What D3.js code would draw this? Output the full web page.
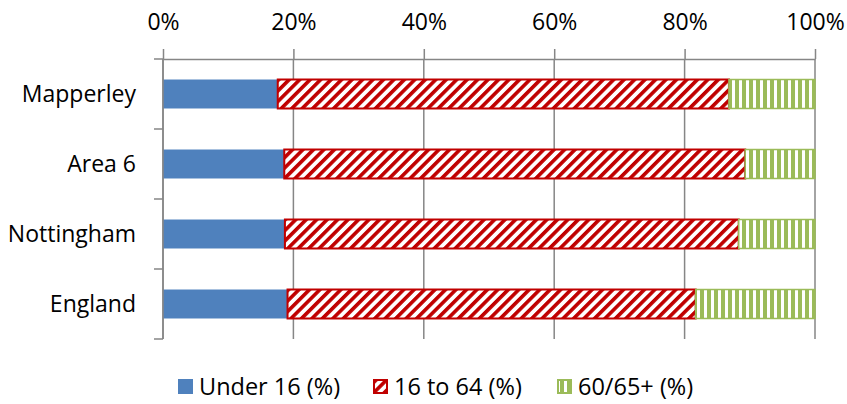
<!DOCTYPE html>
<html>
<head>
<meta charset="utf-8">
<script src="https://cdn.jsdelivr.net/npm/d3@7"></script>
<style>
  html, body { margin: 0; padding: 0; background: #fff; }
  svg { display: block; font-family: "Open Sans", sans-serif; }
</style>
</head>
<body>
<svg id="chart" width="847" height="404"></svg>
<script>
const categories = ["Mapperley", "Area 6", "Nottingham", "England"];
const under16 = [17.6, 18.6, 18.7, 19.1];
const age16to64 = [69.2, 70.7, 69.6, 62.6];
const age60plus = [13.2, 10.7, 11.7, 18.3];
const seriesNames = ["Under 16 (%)", "16 to 64 (%)", "60/65+ (%)"];
const tickValues = [0, 20, 40, 60, 80, 100];

(function () {
const rows = categories.map((c, i) => ({
  cat: c, s0: under16[i], s1: age16to64[i], s2: age60plus[i]
}));

const svg = d3.select("#chart");
const pLeft = 163, pRight = 815, pTop = 59, pBottom = 339;
const gray = "#868686";

const x = d3.scaleLinear().domain([0, 100]).range([pLeft, pRight]);
const y = d3.scaleBand().domain(categories).range([pTop, pBottom])
  .paddingInner(0.586).paddingOuter(0.293);

// patterns
const defs = svg.append("defs");
const pr = defs.append("pattern").attr("id", "redPat")
  .attr("patternUnits", "userSpaceOnUse").attr("width", 7.4).attr("height", 7.4)
  .attr("patternTransform", "rotate(45)");
pr.append("rect").attr("width", 7.4).attr("height", 7.4).attr("fill", "#fff");
pr.append("rect").attr("width", 3.6).attr("height", 7.4).attr("fill", "#C00000");

const pg = defs.append("pattern").attr("id", "greenPat")
  .attr("patternUnits", "userSpaceOnUse").attr("width", 7).attr("height", 7);
pg.append("rect").attr("width", 7).attr("height", 7).attr("fill", "#fff");
pg.append("rect").attr("width", 4).attr("height", 7).attr("fill", "#9BBB59");

const fills = ["#4F81BD", "url(#redPat)", "url(#greenPat)"];
const strokes = ["none", "#C00000", "#9BBB59"];
const strokeW = [0, 2, 1.5];

// gridlines
svg.append("g").selectAll("line").data(tickValues).join("line")
  .attr("x1", d => x(d)).attr("x2", d => x(d))
  .attr("y1", pTop).attr("y2", pBottom)
  .attr("stroke", gray).attr("stroke-width", 1.5);

// top axis
const xAxis = svg.append("g").attr("transform", `translate(0,${pTop})`)
  .call(d3.axisTop(x).tickValues(tickValues).tickFormat(d => d + "%")
    .tickSize(10).tickSizeOuter(0).tickPadding(19));
xAxis.select(".domain").attr("stroke", gray).attr("stroke-width", 1.5);
xAxis.selectAll(".tick line").attr("stroke", gray).attr("stroke-width", 1.5);
xAxis.selectAll(".tick text").attr("font-size", 23).attr("fill", "#000")
  .attr("font-family", "Open Sans");

// stacked bars
const stacked = d3.stack().keys(["s0", "s1", "s2"])(rows);
svg.append("g").selectAll("g").data(stacked).join("g")
  .each(function (layer, li) {
    d3.select(this).selectAll("rect").data(layer).join("rect")
      .attr("x", d => x(d[0]))
      .attr("width", d => x(d[1]) - x(d[0]))
      .attr("y", d => y(d.data.cat))
      .attr("height", y.bandwidth())
      .attr("fill", fills[li])
      .attr("stroke", strokes[li])
      .attr("stroke-width", strokeW[li]);
  });

// left axis
const step = y.step();
const boundaries = d3.range(categories.length + 1).map(i => pTop + i * step);
svg.append("line").attr("x1", pLeft).attr("x2", pLeft).attr("y1", pTop).attr("y2", pBottom)
  .attr("stroke", gray).attr("stroke-width", 1.5);
svg.append("g").selectAll("line").data(boundaries).join("line")
  .attr("x1", pLeft - 9).attr("x2", pLeft).attr("y1", d => d).attr("y2", d => d)
  .attr("stroke", gray).attr("stroke-width", 1.5);
svg.append("g").selectAll("text").data(categories).join("text")
  .attr("x", 136).attr("y", d => y(d) + y.bandwidth() / 2 + 8)
  .attr("text-anchor", "end").attr("font-size", 23).attr("fill", "#000")
  .text(d => d);

// legend
const legendX = [178, 373, 557];
const lg = svg.append("g");
seriesNames.forEach((name, i) => {
  lg.append("rect").attr("x", legendX[i] + (i ? 1 : 0)).attr("y", 379 + (i ? 1 : 0))
    .attr("width", i ? 13 : 15).attr("height", i ? 13 : 15)
    .attr("fill", fills[i]).attr("stroke", strokes[i]).attr("stroke-width", i ? 2 : 0);
  lg.append("text").attr("x", legendX[i] + 21).attr("y", 395)
    .attr("font-size", 23.5).attr("fill", "#000").text(name);
});
})();
</script>
</body>
</html>
